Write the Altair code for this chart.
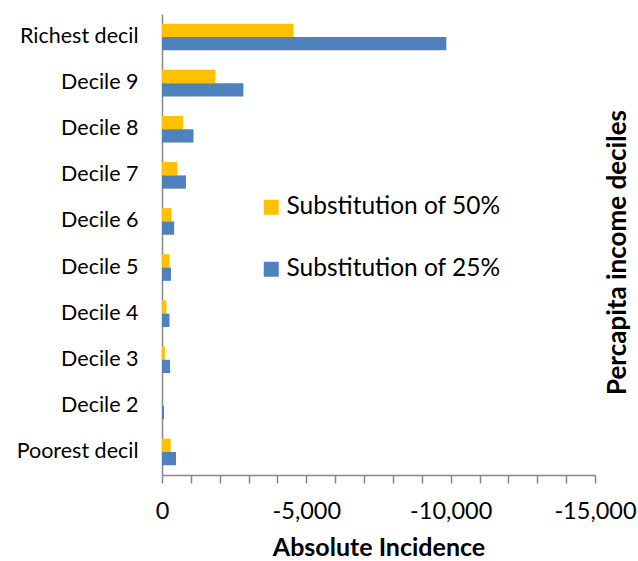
import altair as alt
import pandas as pd

# Income deciles, bottom to top
deciles = ["Poorest decil", "Decile 2", "Decile 3", "Decile 4", "Decile 5",
           "Decile 6", "Decile 7", "Decile 8", "Decile 9", "Richest decil"]
sub50 = [-300, 0, -100, -150, -260, -330, -530, -730, -1850, -4560]
sub25 = [-485, -70, -280, -260, -310, -420, -830, -1090, -2820, -9850]

series = ["Substitution of 50%", "Substitution of 25%"]
colors = ["#FFC000", "#4F81BD"]

rows = []
for d, a, b in zip(deciles, sub50, sub25):
    rows.append({"decile": d, "series": series[0], "value": a})
    rows.append({"decile": d, "series": series[1], "value": b})
df = pd.DataFrame(rows)

FONT = "Lato"
tick_values = list(range(-15000, 1, 1000))

chart = alt.Chart(df).mark_bar().encode(
    y=alt.Y("decile:N", sort=list(reversed(deciles)),
            scale=alt.Scale(paddingInner=0.423, paddingOuter=0.2115),
            axis=alt.Axis(title="Percapita income deciles", titleAngle=270,
                          titleX=455, titleY=238, titleBaseline="middle",
                          titleFontSize=26, titleFontWeight="bold",
                          titleFont=FONT, titleColor="black",
                          labelFont=FONT, labelFontSize=21.5, labelColor="black",
                          labelPadding=24, ticks=False, labelLimit=200,
                          domainColor="#868686", domainWidth=1.5)),
    yOffset=alt.YOffset("series:N", sort=series,
                        scale=alt.Scale(paddingInner=0, paddingOuter=0)),
    x=alt.X("value:Q",
            scale=alt.Scale(domain=[-15000, 0], reverse=True, nice=False),
            axis=alt.Axis(title="Absolute Incidence", values=tick_values,
                          labelExpr="datum.value % 5000 == 0 ? replace(format(datum.value, ','), '\u2212', '-') : ''",
                          labelFlush=False, labelOverlap=False,
                          grid=False, tickSize=8, tickColor="#868686",
                          tickWidth=1.5, domainColor="#868686", domainWidth=1.5,
                          labelFont=FONT, labelFontSize=23.5, labelColor="black",
                          labelPadding=16, titleFont=FONT, titleFontSize=25,
                          titleFontWeight="bold", titleColor="black",
                          titlePadding=13)),
    color=alt.Color("series:N", sort=series,
                    scale=alt.Scale(domain=series, range=colors),
                    legend=alt.Legend(title=None, orient="none", legendX=97,
                                      legendY=181, symbolType="square",
                                      symbolSize=225, symbolStrokeWidth=0,
                                      labelFont=FONT, labelFontSize=24.5,
                                      labelColor="black", labelOffset=3,
                                      labelLimit=400, rowPadding=37)),
).properties(
    width=433, height=461,
    autosize=alt.AutoSizeParams(type="none"),
    padding={"left": 162, "top": 14, "right": 43, "bottom": 86},
).configure_view(stroke=None)

chart.save("out.html", embed_options={"renderer": "svg", "actions": False})
